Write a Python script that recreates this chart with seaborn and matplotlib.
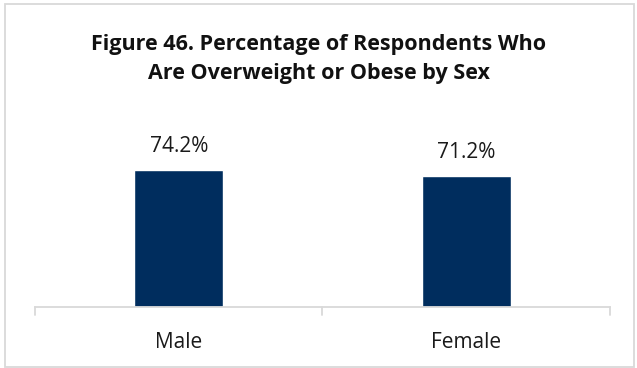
import matplotlib
matplotlib.use("Agg")
import matplotlib.pyplot as plt
import seaborn as sns
import pandas as pd

# chart data
categories = ["Male", "Female"]
values = [74.2, 71.2]
value_labels = ["74.2%", "71.2%"]

sns.set_theme(style="white")
plt.rcParams['font.family'] = ['Open Sans', 'DejaVu Sans']

df = pd.DataFrame({"sex": categories, "pct": values})

fig = plt.figure(figsize=(6.37, 3.68), dpi=100)
ax = fig.add_axes([0.0549, 0.1658, 0.9027, 0.5016])
sns.barplot(data=df, x="sex", y="pct", color="#002D5E", width=0.31,
            saturation=1, ax=ax)
ax.set_ylim(0, 100)
ax.set_xlim(-0.5, 1.5)

for i, (v, lab) in enumerate(zip(values, value_labels)):
    ax.text(i, v + 12.5, lab, ha="center", va="center", fontsize=15, color="#1a1a1a")

for s in ["top", "right", "left"]:
    ax.spines[s].set_visible(False)
ax.spines["bottom"].set_color("#d9d9d9")
ax.spines["bottom"].set_linewidth(1.3)
ax.set_yticks([])
ax.set_xlabel("")
ax.set_ylabel("")
ax.set_xticks([0, 1])
ax.set_xticklabels(categories, fontsize=15, color="#1a1a1a")
ax.tick_params(axis="x", length=0, pad=18)
# category boundary ticks
for xb in [-0.5, 0.5, 1.5]:
    ax.plot([xb, xb], [0, -4.3], color="#d9d9d9", lw=1.3, clip_on=False)

fig.text(0.5, 0.84, "Figure 46. Percentage of Respondents Who\nAre Overweight or Obese by Sex",
         ha="center", va="center", fontsize=15.5, fontweight="bold",
         color="#111111", linespacing=1.5)

fig.patches.append(plt.Rectangle((0.008, 0.003), 0.988, 0.987, transform=fig.transFigure,
                                 fill=False, edgecolor="#d9d9d9", lw=1.3))

fig.savefig("out.png", dpi=100)
